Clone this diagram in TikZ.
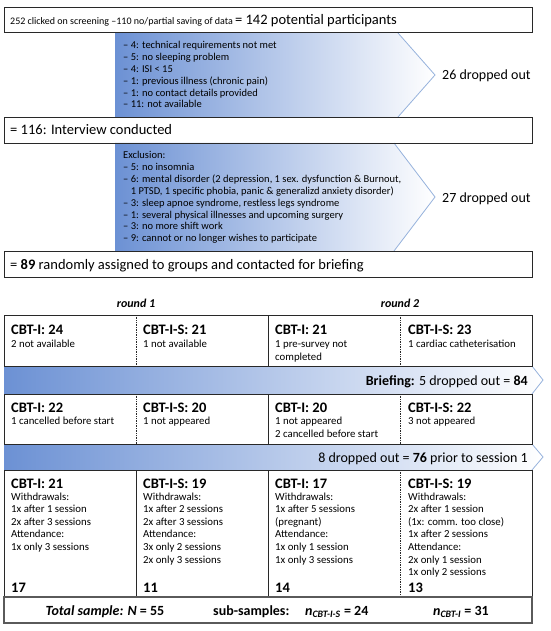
\documentclass[tikz,border=0pt]{standalone}
\usepackage{fontspec}
\setmainfont{Carlito}
\definecolor{shadeblue}{RGB}{108,145,212}
\definecolor{tipline}{RGB}{150,178,220}
\definecolor{frameline}{RGB}{40,40,40}
\definecolor{totalline}{RGB}{90,90,90}
\begin{document}
\begin{tikzpicture}[x=1pt,y=-1pt,
  lb/.style={anchor=base west,inner sep=0pt},
  lbe/.style={anchor=base east,inner sep=0pt},
  lbc/.style={anchor=base,inner sep=0pt},
  fsmall/.style={font=\fontsize{10.5}{12}\selectfont},
  fcell/.style={font=\fontsize{10.8}{13}\selectfont},
  fbig/.style={font=\fontsize{14.5}{17}\selectfont},
  fdrop/.style={font=\fontsize{14}{17}\selectfont},
  fhdr/.style={font=\fontsize{14.5}{17}\selectfont\bfseries},
  fround/.style={font=\fontsize{12}{14}\selectfont\bfseries\itshape},
  ftotal/.style={font=\fontsize{14}{17}\selectfont\bfseries},
  frame/.style={draw=frameline,line width=0.8pt},
  sepdot/.style={draw=frameline,line width=0.7pt,densely dotted},
  sepsolid/.style={draw=frameline,line width=0.8pt},
  tipedge/.style={draw=tipline,line width=0.8pt},
  blueshade/.style={left color=shadeblue,right color=white}
]
\useasboundingbox (0,0) rectangle (550,631);

% ---- chevrons ----
\path[blueshade] (115,33) -- (398,33) -- (435,75) -- (398,117) -- (115,117) -- cycle;
\draw[tipedge] (398,33) -- (435,75) -- (398,117);
\path[blueshade] (115,143) -- (394,143) -- (435,197) -- (394,251) -- (115,251) -- cycle;
\draw[tipedge] (394,143) -- (435,197) -- (394,251);

% ---- top boxes ----
\node[frame,anchor=north west,minimum width=528pt,minimum height=25pt,inner sep=0pt] (b1) at (4,7) {};
\node[frame,anchor=north west,minimum width=528pt,minimum height=26pt,inner sep=0pt] (b2) at (4,117) {};
\node[frame,anchor=north west,minimum width=528pt,minimum height=26pt,inner sep=0pt] (b3) at (4,251) {};

\node[lb] (t1) at (10,24.5) {{\fontsize{10}{12}\selectfont 252 clicked on screening –110 no/partial saving of data }{\fontsize{14.5}{17}\selectfont = 142 potential participants}};
\node[lb,fbig] (t2) at (10,135) {= 116: Interview conducted};
\node[lb,fbig] (t3) at (10,269) {= \textbf{89} randomly assigned to groups and contacted for briefing};

\foreach \t [count=\i] in {– 4: technical requirements not met, – 5: no sleeping problem, – 4: ISI < 15, – 1: previous illness (chronic pain), – 1: no contact details provided, – 11: not available}
  \node[lb,fsmall] (ca\i) at (123,{49+11.8*(\i-1)}) {\t};
\node[lb,fdrop] (d1) at (442,80) {26 dropped out};

\foreach \t [count=\i] in {Exclusion:, – 5: no insomnia, {– 6: mental disorder (2 depression, 1 sex. dysfunction \& Burnout,}, {\phantom{– }1 PTSD, 1 specific phobia, panic \& generalizd anxiety disorder)}, {– 3: sleep apnoe syndrome, restless legs syndrome}, – 1: several physical illnesses and upcoming surgery, – 3: no more shift work, – 9: cannot or no longer wishes to participate}
  \node[lb,fsmall] (cb\i) at (123,{159+11.8*(\i-1)}) {\t};
\node[lb,fdrop] (d2) at (442,202) {27 dropped out};

% ---- round labels ----
\node[lbc,fround] (r1) at (136,307) {round 1};
\node[lbc,fround] (r2) at (400,307) {round 2};

% ---- horizontal arrows ----
\path[blueshade] (4,366) -- (532,366) -- (543,380) -- (532,394) -- (4,394) -- cycle;
\draw[tipedge] (532,366) -- (543,380) -- (532,394);
\path[blueshade] (4,444) -- (532,444) -- (543,457) -- (532,470) -- (4,470) -- cycle;
\draw[tipedge] (532,444) -- (543,457) -- (532,470);
\node[lbe,fdrop] (a1) at (528,385) {\textbf{Briefing:} 5 dropped out = \textbf{84}};
\node[lbe,fdrop] (a2) at (528,462) {8 dropped out = \textbf{76} prior to session 1};

% ---- row 1 ----
\draw[frame] (4,315) rectangle (532,366);
\draw[sepdot] (136,315) -- (136,366);
\draw[sepsolid] (268,315) -- (268,366);
\draw[sepdot] (400,315) -- (400,366);
\node[lb,fhdr] (h11) at (11,334) {CBT-I: 24};
\node[lb,fcell] (s11) at (11,347) {2 not available};
\node[lb,fhdr] (h12) at (143,334) {CBT-I-S: 21};
\node[lb,fcell] (s12) at (143,347) {1 not available};
\node[lb,fhdr] (h13) at (275,334) {CBT-I: 21};
\node[lb,fcell] (s13) at (275,347) {1 pre-survey not};
\node[lb,fcell] (s13b) at (275,360) {completed};
\node[lb,fhdr] (h14) at (408,334) {CBT-I-S: 23};
\node[lb,fcell] (s14) at (408,347) {1 cardiac catheterisation};

% ---- row 2 ----
\draw[frame] (4,394) rectangle (532,444);
\draw[sepdot] (136,394) -- (136,444);
\draw[sepsolid] (268,394) -- (268,444);
\draw[sepdot] (400,394) -- (400,444);
\node[lb,fhdr] (h21) at (11,412) {CBT-I: 22};
\node[lb,fcell] (s21) at (11,424.5) {1 cancelled before start};
\node[lb,fhdr] (h22) at (143,412) {CBT-I-S: 20};
\node[lb,fcell] (s22) at (143,424.5) {1 not appeared};
\node[lb,fhdr] (h23) at (275,412) {CBT-I: 20};
\node[lb,fcell] (s23) at (275,424.5) {1 not appeared};
\node[lb,fcell] (s23b) at (275,437) {2 cancelled before start};
\node[lb,fhdr] (h24) at (408,412) {CBT-I-S: 22};
\node[lb,fcell] (s24) at (408,424.5) {3 not appeared};

% ---- row 3 ----
\draw[frame] (4,470) rectangle (532,597);
\draw[sepsolid] (136,470) -- (136,597);
\draw[sepsolid] (268,470) -- (268,597);
\draw[sepdot] (400,470) -- (400,597);
\node[lb,fhdr] (h31) at (11,488) {CBT-I: 21};
\node[lb,fhdr] (h32) at (143,488) {CBT-I-S: 19};
\node[lb,fhdr] (h33) at (275,488) {CBT-I: 17};
\node[lb,fhdr] (h34) at (408,488) {CBT-I-S: 19};
\foreach \t [count=\i] in {Withdrawals:, 1x after 1 session, 2x after 3 sessions, Attendance:, 1x only 3 sessions}
  \node[lb,fcell] (la\i) at (11,{500+12.6*(\i-1)}) {\t};
\foreach \t [count=\i] in {Withdrawals:, 1x after 2 sessions, 2x after 3 sessions, Attendance:, 3x only 2 sessions, 2x only 3 sessions}
  \node[lb,fcell] (lb\i) at (143,{500+12.6*(\i-1)}) {\t};
\foreach \t [count=\i] in {Withdrawals:, 1x after 5 sessions, (pregnant), Attendance:, 1x only 1 session, 1x only 3 sessions}
  \node[lb,fcell] (lc\i) at (275,{500+12.6*(\i-1)}) {\t};
\foreach \t [count=\i] in {Withdrawals:, 2x after 1 session, (1x: comm. too close), 1x after 2 sessions, Attendance:, 2x only 1 session, 1x only 2 sessions}
  \node[lb,fcell] (ld\i) at (408,{500+12.6*(\i-1)}) {\t};
\node[lb,fhdr] (n31) at (11,592) {17};
\node[lb,fhdr] (n32) at (143,592) {11};
\node[lb,fhdr] (n33) at (275,592) {14};
\node[lb,fhdr] (n34) at (408,592) {13};

% ---- total ----
\draw[draw=totalline,line width=1.6pt] (4,597) rectangle (532,623);
\node[lbc,ftotal] (tot) at (105,615) {\textit{Total sample: N} = 55};
\node[lb,ftotal] (sub) at (213,615) {sub-samples:};
\node[lb,ftotal] (ns) at (305,615) {\textit{n}\textsubscript{\textit{CBT-I-S}} = 24};
\node[lb,ftotal] (ni) at (433,615) {\textit{n}\textsubscript{\textit{CBT-I}} = 31};
\end{tikzpicture}
\end{document}
